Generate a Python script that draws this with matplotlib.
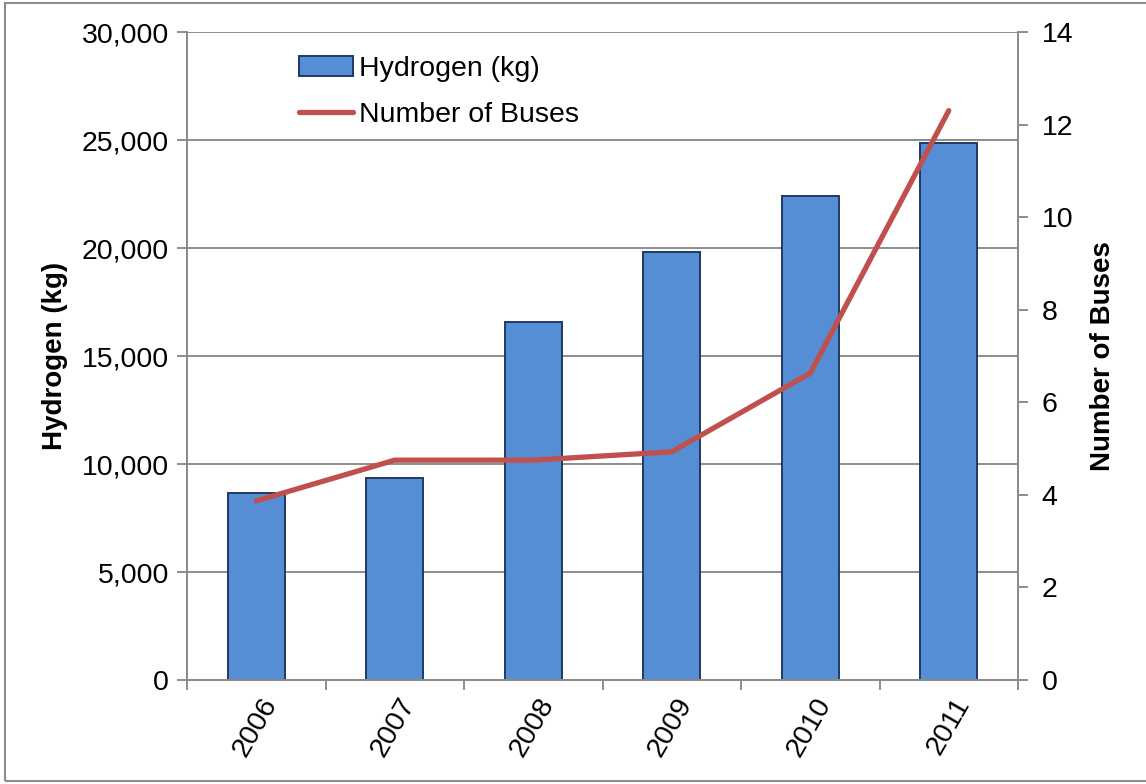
import matplotlib
matplotlib.use('Agg')
import matplotlib.pyplot as plt
import matplotlib.transforms as mtransforms
from matplotlib.patches import Rectangle
from matplotlib.lines import Line2D
from matplotlib.ticker import FuncFormatter

plt.rcParams['font.family'] = ['Liberation Sans', 'DejaVu Sans']

anos = ['2006', '2007', '2008', '2009', '2010', '2011']
hidrogenio = [8650, 9350, 16580, 19810, 22400, 24880]
onibus = [3.87, 4.75, 4.75, 4.93, 6.63, 12.3]

azul = '#558ED5'
borda = '#1F3A63'
vermelho = '#C0504D'
cinza = '#8C8C8C'
tam = 20.5

fig = plt.figure(figsize=(11.46, 7.84), dpi=100)
ax = fig.add_axes([187 / 1146, 1 - 680 / 784, (1018 - 187) / 1146, (680 - 32) / 784])

x = list(range(len(anos)))
ax.bar(x, hidrogenio, width=0.41, color=azul, edgecolor=borda, linewidth=1.4, zorder=3)
ax.set_xlim(-0.5, len(anos) - 0.5)
ax.set_ylim(0, 30000)
ax.set_yticks(range(0, 30001, 5000))
ax.yaxis.set_major_formatter(FuncFormatter(lambda v, p: f'{int(v):,}'))
ax.grid(axis='y', color=cinza, linewidth=1.4, zorder=0)

# ticks entre categorias, rotulos no centro
ax.set_xticks([i - 0.5 for i in range(len(anos) + 1)])
ax.set_xticklabels([])
ax.set_xticks(x, minor=True)
ax.set_xticklabels(anos, minor=True, rotation=60, ha='right', va='center',
                   rotation_mode='anchor', fontsize=tam)
ax.tick_params(axis='x', which='minor', length=0, pad=14)
desloc = mtransforms.ScaledTranslation(0.15, 0, fig.dpi_scale_trans)
for lbl in ax.get_xticklabels(minor=True):
    lbl.set_transform(lbl.get_transform() + desloc)

ax.tick_params(axis='x', which='major', length=7, width=1.4, color=cinza)
ax.tick_params(axis='y', length=7, width=1.4, color=cinza, labelsize=tam, pad=6)
for s in ax.spines.values():
    s.set_color(cinza)
    s.set_linewidth(1.4)
ax.spines['top'].set_visible(False)
ax.set_ylabel('Hydrogen (kg)', fontsize=20, fontweight='bold', labelpad=10)

ax2 = ax.twinx()
ax2.plot(x, onibus, color=vermelho, linewidth=3.8, solid_capstyle='round', zorder=4)
ax2.set_ylim(0, 14)
ax2.set_yticks(range(0, 15, 2))
ax2.tick_params(axis='y', length=7, width=1.4, color=cinza, labelsize=tam, pad=10)
for s in ax2.spines.values():
    s.set_color(cinza)
    s.set_linewidth(1.4)
ax2.spines['top'].set_visible(False)
ax2.set_ylabel('Number of Buses', fontsize=20, fontweight='bold', labelpad=12)

alcas = [Rectangle((0, 0), 1, 1, facecolor=azul, edgecolor=borda, linewidth=1.4),
         Line2D([0], [0], color=vermelho, linewidth=3.8, solid_capstyle='round')]
ax2.legend(alcas, ['Hydrogen (kg)', 'Number of Buses'], loc='upper left',
           bbox_to_anchor=(0.121, 0.980), frameon=False, fontsize=tam,
           handlelength=1.9, handletextpad=0.2, labelspacing=0.7, borderaxespad=0)

fig.patches.append(Rectangle((5 / 1146, 3 / 784), 1, 778 / 784, transform=fig.transFigure,
                             fill=False, edgecolor=cinza, linewidth=1.5))

fig.savefig('out.png', dpi=100)
